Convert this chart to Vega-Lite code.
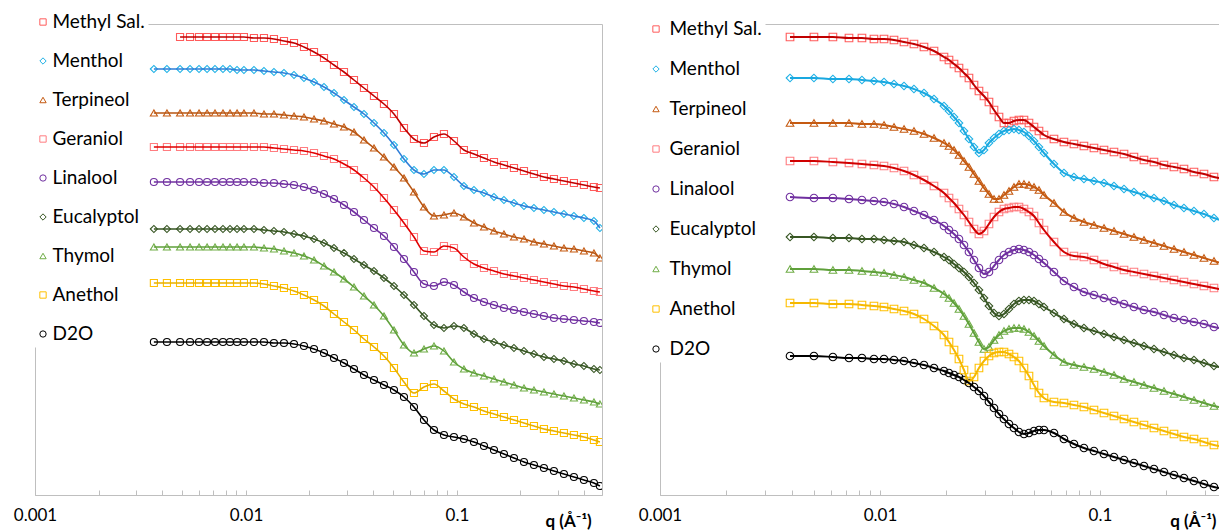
{
  "$schema": "https://vega.github.io/schema/vega-lite/v6.json",
  "background": "white",
  "padding": {"left": 12, "top": 9, "right": 0, "bottom": 0},
  "bounds": "flush",
  "spacing": 58,
  "config": {
    "font": "Lato",
    "view": {"stroke": "#BFBFBF", "strokeWidth": 1},
    "axis": {"grid": false, "domainColor": "#BFBFBF", "tickColor": "#BFBFBF"}
  },
  "datasets": {
    "L": [
      {"q":0.00366,"me":4.26,"te":3.82,"ge":3.48,"li":3.13,"eu":2.66,"th":2.48,"an":2.12,"d2":1.53},
      {"q":0.00422,"me":4.26,"te":3.82,"ge":3.48,"li":3.13,"eu":2.66,"th":2.48,"an":2.12,"d2":1.53},
      {"q":0.00487,"ms":4.58,"me":4.26,"te":3.82,"ge":3.48,"li":3.13,"eu":2.66,"th":2.48,"an":2.12,"d2":1.53},
      {"q":0.00543,"ms":4.58,"me":4.26,"te":3.82,"ge":3.48,"li":3.13,"eu":2.66,"th":2.48,"an":2.12,"d2":1.53},
      {"q":0.00599,"ms":4.58,"me":4.26,"te":3.82,"ge":3.48,"li":3.13,"eu":2.66,"th":2.48,"an":2.12,"d2":1.53},
      {"q":0.00654,"ms":4.58,"me":4.26,"te":3.82,"ge":3.48,"li":3.13,"eu":2.66,"th":2.48,"an":2.12,"d2":1.53},
      {"q":0.00713,"ms":4.58,"me":4.26,"te":3.82,"ge":3.48,"li":3.13,"eu":2.66,"th":2.48,"an":2.12,"d2":1.53},
      {"q":0.00778,"ms":4.58,"me":4.26,"te":3.82,"ge":3.48,"li":3.13,"eu":2.66,"th":2.48,"an":2.12,"d2":1.53},
      {"q":0.0084,"ms":4.58,"me":4.26,"te":3.82,"ge":3.48,"li":3.13,"eu":2.66,"th":2.48,"an":2.12,"d2":1.53},
      {"q":0.00907,"ms":4.58,"me":4.25,"te":3.82,"ge":3.48,"li":3.13,"eu":2.66,"th":2.48,"an":2.12,"d2":1.53},
      {"q":0.00978,"ms":4.58,"me":4.25,"te":3.82,"ge":3.48,"li":3.13,"eu":2.66,"th":2.48,"an":2.12,"d2":1.53},
      {"q":0.01091,"ms":4.57,"me":4.25,"te":3.82,"ge":3.48,"li":3.13,"eu":2.66,"th":2.48,"an":2.12,"d2":1.53},
      {"q":0.01217,"ms":4.57,"me":4.24,"te":3.81,"ge":3.48,"li":3.12,"eu":2.65,"th":2.47,"an":2.11,"d2":1.53},
      {"q":0.01357,"ms":4.56,"me":4.23,"te":3.81,"ge":3.47,"li":3.12,"eu":2.64,"th":2.46,"an":2.09,"d2":1.52},
      {"q":0.01514,"ms":4.54,"me":4.22,"te":3.80,"ge":3.46,"li":3.11,"eu":2.63,"th":2.44,"an":2.07,"d2":1.52},
      {"q":0.01689,"ms":4.52,"me":4.20,"te":3.79,"ge":3.45,"li":3.10,"eu":2.61,"th":2.42,"an":2.04,"d2":1.51},
      {"q":0.01883,"ms":4.48,"me":4.17,"te":3.78,"ge":3.44,"li":3.08,"eu":2.59,"th":2.39,"an":2.00,"d2":1.49},
      {"q":0.02101,"ms":4.43,"me":4.13,"te":3.76,"ge":3.42,"li":3.05,"eu":2.56,"th":2.35,"an":1.95,"d2":1.46},
      {"q":0.02343,"ms":4.37,"me":4.08,"te":3.74,"ge":3.39,"li":3.01,"eu":2.52,"th":2.29,"an":1.89,"d2":1.42},
      {"q":0.02613,"ms":4.30,"me":4.02,"te":3.71,"ge":3.36,"li":2.96,"eu":2.47,"th":2.23,"an":1.81,"d2":1.37},
      {"q":0.02914,"ms":4.23,"me":3.95,"te":3.68,"ge":3.31,"li":2.90,"eu":2.42,"th":2.16,"an":1.73,"d2":1.32},
      {"q":0.0325,"ms":4.15,"me":3.88,"te":3.63,"ge":3.25,"li":2.83,"eu":2.36,"th":2.08,"an":1.65,"d2":1.26},
      {"q":0.03625,"ms":4.07,"me":3.81,"te":3.55,"ge":3.17,"li":2.75,"eu":2.30,"th":1.99,"an":1.56,"d2":1.20},
      {"q":0.04043,"ms":3.99,"me":3.72,"te":3.47,"ge":3.08,"li":2.67,"eu":2.24,"th":1.90,"an":1.48,"d2":1.15},
      {"q":0.04509,"ms":3.91,"me":3.62,"te":3.38,"ge":2.97,"li":2.59,"eu":2.17,"th":1.79,"an":1.39,"d2":1.10},
      {"q":0.05029,"ms":3.81,"me":3.50,"te":3.28,"ge":2.85,"li":2.48,"eu":2.09,"th":1.65,"an":1.27,"d2":1.05},
      {"q":0.05609,"ms":3.67,"me":3.36,"te":3.17,"ge":2.72,"li":2.36,"eu":2.00,"th":1.50,"an":1.13,"d2":0.98},
      {"q":0.06256,"ms":3.56,"me":3.25,"te":3.03,"ge":2.58,"li":2.23,"eu":1.90,"th":1.42,"an":1.02,"d2":0.88},
      {"q":0.06977,"ms":3.52,"me":3.21,"te":2.88,"ge":2.44,"li":2.11,"eu":1.79,"th":1.46,"an":1.08,"d2":0.75},
      {"q":0.07781,"ms":3.58,"me":3.25,"te":2.79,"ge":2.43,"li":2.09,"eu":1.70,"th":1.49,"an":1.11,"d2":0.65},
      {"q":0.08678,"ms":3.61,"me":3.25,"te":2.80,"ge":2.49,"li":2.13,"eu":1.67,"th":1.44,"an":1.04,"d2":0.60},
      {"q":0.09679,"ms":3.54,"me":3.18,"te":2.82,"ge":2.47,"li":2.10,"eu":1.69,"th":1.33,"an":0.96,"d2":0.58},
      {"q":0.1079,"ms":3.45,"me":3.09,"te":2.78,"ge":2.38,"li":2.03,"eu":1.67,"th":1.26,"an":0.91,"d2":0.56},
      {"q":0.1204,"ms":3.41,"me":3.05,"te":2.72,"ge":2.31,"li":1.97,"eu":1.61,"th":1.22,"an":0.88,"d2":0.53},
      {"q":0.1343,"ms":3.37,"me":3.02,"te":2.68,"ge":2.27,"li":1.93,"eu":1.56,"th":1.19,"an":0.84,"d2":0.49},
      {"q":0.1498,"ms":3.33,"me":2.98,"te":2.64,"ge":2.24,"li":1.90,"eu":1.53,"th":1.16,"an":0.81,"d2":0.45},
      {"q":0.167,"ms":3.30,"me":2.95,"te":2.61,"ge":2.21,"li":1.87,"eu":1.50,"th":1.13,"an":0.78,"d2":0.41},
      {"q":0.1863,"ms":3.27,"me":2.92,"te":2.58,"ge":2.19,"li":1.85,"eu":1.47,"th":1.10,"an":0.75,"d2":0.37},
      {"q":0.2078,"ms":3.24,"me":2.89,"te":2.56,"ge":2.17,"li":1.83,"eu":1.44,"th":1.07,"an":0.72,"d2":0.33},
      {"q":0.2317,"ms":3.21,"me":2.87,"te":2.53,"ge":2.15,"li":1.81,"eu":1.41,"th":1.05,"an":0.69,"d2":0.30},
      {"q":0.2584,"ms":3.18,"me":2.85,"te":2.51,"ge":2.13,"li":1.79,"eu":1.38,"th":1.03,"an":0.66,"d2":0.27},
      {"q":0.2882,"ms":3.16,"me":2.83,"te":2.49,"ge":2.11,"li":1.77,"eu":1.36,"th":1.01,"an":0.64,"d2":0.24},
      {"q":0.3214,"ms":3.14,"me":2.81,"te":2.47,"ge":2.09,"li":1.76,"eu":1.34,"th":0.99,"an":0.62,"d2":0.21},
      {"q":0.3585,"ms":3.12,"me":2.79,"te":2.46,"ge":2.08,"li":1.75,"eu":1.31,"th":0.97,"an":0.60,"d2":0.18},
      {"q":0.3998,"ms":3.10,"me":2.77,"te":2.44,"ge":2.06,"li":1.74,"eu":1.29,"th":0.95,"an":0.58,"d2":0.15},
      {"q":0.4459,"ms":3.08,"me":2.74,"te":2.42,"ge":2.04,"li":1.73,"eu":1.26,"th":0.93,"an":0.55,"d2":0.12},
      {"q":0.476,"ms":3.07,"me":2.67,"te":2.37,"ge":2.03,"li":1.72,"eu":1.25,"th":0.91,"an":0.53,"d2":0.09}
    ],
    "R": [
      {"q":0.0039,"ms":4.58,"me":4.17,"te":3.72,"ge":3.34,"li":2.98,"eu":2.58,"th":2.26,"an":1.92,"d2":1.39},
      {"q":0.00501,"ms":4.58,"me":4.17,"te":3.72,"ge":3.34,"li":2.97,"eu":2.58,"th":2.26,"an":1.92,"d2":1.39},
      {"q":0.00611,"ms":4.58,"me":4.16,"te":3.72,"ge":3.33,"li":2.97,"eu":2.57,"th":2.25,"an":1.91,"d2":1.38},
      {"q":0.00723,"ms":4.57,"me":4.16,"te":3.72,"ge":3.32,"li":2.96,"eu":2.57,"th":2.25,"an":1.91,"d2":1.37},
      {"q":0.00828,"ms":4.57,"me":4.15,"te":3.71,"ge":3.31,"li":2.95,"eu":2.56,"th":2.24,"an":1.90,"d2":1.37},
      {"q":0.00939,"ms":4.56,"me":4.14,"te":3.71,"ge":3.30,"li":2.94,"eu":2.56,"th":2.23,"an":1.89,"d2":1.36},
      {"q":0.01043,"ms":4.56,"me":4.13,"te":3.70,"ge":3.29,"li":2.93,"eu":2.55,"th":2.22,"an":1.88,"d2":1.36},
      {"q":0.01158,"ms":4.55,"me":4.11,"te":3.68,"ge":3.27,"li":2.91,"eu":2.54,"th":2.20,"an":1.86,"d2":1.35},
      {"q":0.01286,"ms":4.53,"me":4.09,"te":3.66,"ge":3.24,"li":2.88,"eu":2.53,"th":2.18,"an":1.84,"d2":1.34},
      {"q":0.01427,"ms":4.51,"me":4.06,"te":3.64,"ge":3.20,"li":2.84,"eu":2.50,"th":2.15,"an":1.81,"d2":1.32},
      {"q":0.01585,"ms":4.48,"me":4.02,"te":3.61,"ge":3.15,"li":2.80,"eu":2.47,"th":2.12,"an":1.76,"d2":1.30},
      {"q":0.0176,"ms":4.44,"me":3.96,"te":3.57,"ge":3.09,"li":2.75,"eu":2.43,"th":2.07,"an":1.69,"d2":1.27},
      {"q":0.01954,"ms":4.38,"me":3.89,"te":3.52,"ge":3.02,"li":2.69,"eu":2.38,"th":2.01,"an":1.60,"d2":1.24},
      {"q":0.02059,"ms":4.35,"me":3.84,"te":3.49,"ge":2.97,"li":2.65,"eu":2.35,"th":1.97,"an":1.53,"d2":1.22},
      {"q":0.0217,"ms":4.31,"me":3.78,"te":3.45,"ge":2.92,"li":2.61,"eu":2.31,"th":1.92,"an":1.45,"d2":1.20},
      {"q":0.02286,"ms":4.27,"me":3.72,"te":3.40,"ge":2.86,"li":2.56,"eu":2.27,"th":1.86,"an":1.36,"d2":1.18},
      {"q":0.02409,"ms":4.22,"me":3.64,"te":3.34,"ge":2.80,"li":2.50,"eu":2.23,"th":1.79,"an":1.25,"d2":1.15},
      {"q":0.02538,"ms":4.17,"me":3.56,"te":3.28,"ge":2.73,"li":2.43,"eu":2.18,"th":1.71,"an":1.14,"d2":1.12},
      {"q":0.02675,"ms":4.10,"me":3.48,"te":3.21,"ge":2.66,"li":2.35,"eu":2.12,"th":1.62,"an":1.18,"d2":1.08},
      {"q":0.02818,"ms":4.04,"me":3.42,"te":3.14,"ge":2.61,"li":2.27,"eu":2.05,"th":1.53,"an":1.27,"d2":1.04},
      {"q":0.0297,"ms":3.99,"me":3.45,"te":3.07,"ge":2.64,"li":2.21,"eu":1.97,"th":1.46,"an":1.34,"d2":0.99},
      {"q":0.03129,"ms":3.93,"me":3.52,"te":3.01,"ge":2.71,"li":2.23,"eu":1.89,"th":1.48,"an":1.39,"d2":0.93},
      {"q":0.03298,"ms":3.85,"me":3.57,"te":2.96,"ge":2.78,"li":2.29,"eu":1.82,"th":1.55,"an":1.42,"d2":0.87},
      {"q":0.03475,"ms":3.78,"me":3.61,"te":2.96,"ge":2.83,"li":2.35,"eu":1.79,"th":1.60,"an":1.43,"d2":0.81},
      {"q":0.03661,"ms":3.72,"me":3.64,"te":3.00,"ge":2.86,"li":2.40,"eu":1.81,"th":1.64,"an":1.43,"d2":0.76},
      {"q":0.03858,"ms":3.72,"me":3.65,"te":3.04,"ge":2.87,"li":2.43,"eu":1.86,"th":1.66,"an":1.41,"d2":0.71},
      {"q":0.04065,"ms":3.74,"me":3.66,"te":3.08,"ge":2.88,"li":2.45,"eu":1.91,"th":1.67,"an":1.38,"d2":0.67},
      {"q":0.04283,"ms":3.75,"me":3.65,"te":3.11,"ge":2.88,"li":2.46,"eu":1.94,"th":1.67,"an":1.34,"d2":0.63},
      {"q":0.04513,"ms":3.75,"me":3.63,"te":3.11,"ge":2.86,"li":2.45,"eu":1.95,"th":1.66,"an":1.27,"d2":0.61},
      {"q":0.04756,"ms":3.72,"me":3.59,"te":3.10,"ge":2.83,"li":2.43,"eu":1.95,"th":1.63,"an":1.19,"d2":0.62},
      {"q":0.05012,"ms":3.68,"me":3.54,"te":3.08,"ge":2.79,"li":2.40,"eu":1.94,"th":1.59,"an":1.10,"d2":0.64},
      {"q":0.05281,"ms":3.64,"me":3.48,"te":3.05,"ge":2.72,"li":2.36,"eu":1.91,"th":1.54,"an":1.02,"d2":0.65},
      {"q":0.05565,"ms":3.60,"me":3.42,"te":3.00,"ge":2.65,"li":2.32,"eu":1.88,"th":1.49,"an":0.97,"d2":0.65},
      {"q":0.06179,"ms":3.56,"me":3.31,"te":2.92,"ge":2.53,"li":2.23,"eu":1.82,"th":1.40,"an":0.93,"d2":0.62},
      {"q":0.0686,"ms":3.53,"me":3.22,"te":2.83,"ge":2.43,"li":2.14,"eu":1.76,"th":1.33,"an":0.92,"d2":0.56},
      {"q":0.07617,"ms":3.51,"me":3.18,"te":2.77,"ge":2.39,"li":2.08,"eu":1.71,"th":1.30,"an":0.90,"d2":0.51},
      {"q":0.08457,"ms":3.49,"me":3.16,"te":2.73,"ge":2.38,"li":2.03,"eu":1.67,"th":1.28,"an":0.88,"d2":0.47},
      {"q":0.09391,"ms":3.47,"me":3.14,"te":2.70,"ge":2.35,"li":2.00,"eu":1.64,"th":1.26,"an":0.85,"d2":0.44},
      {"q":0.1043,"ms":3.45,"me":3.12,"te":2.67,"ge":2.31,"li":1.97,"eu":1.61,"th":1.23,"an":0.82,"d2":0.41},
      {"q":0.1158,"ms":3.43,"me":3.09,"te":2.64,"ge":2.28,"li":1.94,"eu":1.58,"th":1.20,"an":0.79,"d2":0.38},
      {"q":0.1286,"ms":3.41,"me":3.06,"te":2.61,"ge":2.25,"li":1.91,"eu":1.55,"th":1.16,"an":0.76,"d2":0.35},
      {"q":0.1427,"ms":3.38,"me":3.03,"te":2.58,"ge":2.23,"li":1.88,"eu":1.52,"th":1.13,"an":0.73,"d2":0.32},
      {"q":0.1585,"ms":3.35,"me":3.00,"te":2.55,"ge":2.21,"li":1.85,"eu":1.49,"th":1.10,"an":0.70,"d2":0.29},
      {"q":0.176,"ms":3.33,"me":2.97,"te":2.52,"ge":2.19,"li":1.83,"eu":1.46,"th":1.07,"an":0.67,"d2":0.26},
      {"q":0.1954,"ms":3.30,"me":2.94,"te":2.49,"ge":2.17,"li":1.80,"eu":1.43,"th":1.04,"an":0.64,"d2":0.23},
      {"q":0.217,"ms":3.28,"me":2.90,"te":2.46,"ge":2.15,"li":1.77,"eu":1.40,"th":1.01,"an":0.61,"d2":0.20},
      {"q":0.2409,"ms":3.26,"me":2.87,"te":2.43,"ge":2.13,"li":1.75,"eu":1.37,"th":0.98,"an":0.58,"d2":0.17},
      {"q":0.2675,"ms":3.23,"me":2.84,"te":2.40,"ge":2.11,"li":1.73,"eu":1.35,"th":0.95,"an":0.56,"d2":0.14},
      {"q":0.297,"ms":3.21,"me":2.81,"te":2.37,"ge":2.09,"li":1.71,"eu":1.32,"th":0.92,"an":0.53,"d2":0.11},
      {"q":0.3298,"ms":3.18,"me":2.77,"te":2.34,"ge":2.07,"li":1.68,"eu":1.29,"th":0.89,"an":0.50,"d2":0.08},
      {"q":0.3661,"ms":3.16,"me":2.74,"te":2.31,"ge":2.05,"li":1.66,"eu":1.27,"th":0.87,"an":0.48,"d2":0.06}
    ]
  },
  "hconcat": [
    {
      "width": 567,
      "height": 471,
      "data": {"name": "L"},
      "transform": [
        {"fold": ["ms","me","te","ge","li","eu","th","an","d2"], "as": ["k","v"]},
        {"filter": "isValid(datum.v)"}
      ],
      "encoding": {
        "x": {
          "field": "q", "type": "quantitative",
          "scale": {"type": "log", "domain": [0.001, 0.487], "nice": false},
          "axis": {
            "values": [0.001,0.002,0.003,0.004,0.005,0.006,0.007,0.008,0.009,0.01,0.02,0.03,0.04,0.05,0.06,0.07,0.08,0.09,0.1,0.2,0.3,0.4],
            "format": "~g",
            "labelExpr": "datum.value == 0.001 || datum.value == 0.01 || datum.value == 0.1 ? datum.label : ''",
            "labelOverlap": false, "labelFlush": false, "labelBound": false,
            "tickSize": -5, "labelPadding": 17,
            "labelFont": "Lato", "labelFontSize": 17, "labelColor": "#000000",
            "title": "q (Å⁻¹)", "titleFont": "Lato", "titleFontSize": 17, "titleFontWeight": "bold", "titleColor": "#000000",
            "titleAnchor": "start", "titleAlign": "left", "titleBaseline": "alphabetic", "titleX": 510, "titleY": 31
          }
        },
        "y": {
          "field": "v", "type": "quantitative",
          "scale": {"domain": [0, 4.71], "nice": false, "zero": false},
          "axis": null
        }
      },
      "layer": [
        {
          "mark": {"type": "point", "filled": false, "clip": true, "size": 50, "strokeWidth": 1.1, "opacity": 1},
          "encoding": {
            "color": {
              "field": "k", "type": "nominal",
              "scale": {"domain": ["ms","me","te","ge","li","eu","th","an","d2"], "range": ["#FF5B5B","#1FB1E6","#C55A11","#FF7C80","#7030A0","#375623","#70AD47","#FFC000","#000000"]},
              "legend": {"orient": "none", "legendX": -4.5, "legendY": -14.5, "title": null, "fillColor": "white", "padding": 3, "rowPadding": 19, "labelFont": "Lato", "labelFontSize": 19, "labelColor": "#000000", "labelOffset": 0, "symbolSize": 40, "symbolStrokeWidth": 1,
                "labelExpr": "{'ms':'Methyl Sal.','me':'Menthol','te':'Terpineol','ge':'Geraniol','li':'Linalool','eu':'Eucalyptol','th':'Thymol','an':'Anethol','d2':'D2O'}[datum.label]"}
            },
            "shape": {
              "field": "k", "type": "nominal",
              "scale": {"domain": ["ms","me","te","ge","li","eu","th","an","d2"], "range": ["square","diamond","triangle-up","square","circle","diamond","triangle-up","square","circle"]},
              "legend": {"orient": "none", "legendX": -4.5, "legendY": -14.5, "title": null, "fillColor": "white", "padding": 3, "rowPadding": 19, "labelFont": "Lato", "labelFontSize": 19, "labelColor": "#000000", "labelOffset": 0, "symbolSize": 40, "symbolStrokeWidth": 1,
                "labelExpr": "{'ms':'Methyl Sal.','me':'Menthol','te':'Terpineol','ge':'Geraniol','li':'Linalool','eu':'Eucalyptol','th':'Thymol','an':'Anethol','d2':'D2O'}[datum.label]"}
            }
          }
        },
        {
          "mark": {"type": "line", "clip": true, "strokeWidth": 1.6, "interpolate": "monotone"},
          "encoding": {
            "stroke": {
              "field": "k", "type": "nominal",
              "scale": {"domain": ["ms","me","te","ge","li","eu","th","an","d2"], "range": ["#C00000","#2F7ED8","#B85512","#E00000","#7030A0","#375623","#5FA03A","#E8B000","#000000"]},
              "legend": null
            }
          }
        }
      ]
    },
    {
      "width": 561,
      "height": 471,
      "data": {"name": "R"},
      "transform": [
        {"fold": ["ms","me","te","ge","li","eu","th","an","d2"], "as": ["k","v"]},
        {"filter": "isValid(datum.v)"}
      ],
      "encoding": {
        "x": {
          "field": "q", "type": "quantitative",
          "scale": {"type": "log", "domain": [0.001, 0.355], "nice": false},
          "axis": {
            "values": [0.001,0.002,0.003,0.004,0.005,0.006,0.007,0.008,0.009,0.01,0.02,0.03,0.04,0.05,0.06,0.07,0.08,0.09,0.1,0.2,0.3],
            "format": "~g",
            "labelExpr": "datum.value == 0.001 || datum.value == 0.01 || datum.value == 0.1 ? datum.label : ''",
            "labelOverlap": false, "labelFlush": false, "labelBound": false,
            "tickSize": -5, "labelPadding": 17,
            "labelFont": "Lato", "labelFontSize": 17, "labelColor": "#000000",
            "title": "q (Å⁻¹)", "titleFont": "Lato", "titleFontSize": 17, "titleFontWeight": "bold", "titleColor": "#000000",
            "titleAnchor": "end", "titleAlign": "right", "titleBaseline": "alphabetic", "titleX": 556, "titleY": 31
          }
        },
        "y": {
          "field": "v", "type": "quantitative",
          "scale": {"domain": [0, 4.71], "nice": false, "zero": false},
          "axis": null
        }
      },
      "layer": [
        {
          "mark": {"type": "point", "filled": false, "clip": true, "size": 58, "strokeWidth": 1.1, "opacity": 1},
          "encoding": {
            "color": {
              "field": "k", "type": "nominal",
              "scale": {"domain": ["ms","me","te","ge","li","eu","th","an","d2"], "range": ["#FF5B5B","#1FB1E6","#C55A11","#FF7C80","#7030A0","#375623","#70AD47","#FFC000","#000000"]},
              "legend": {"orient": "none", "legendX": -16.5, "legendY": -7.5, "title": null, "fillColor": "white", "padding": 3, "rowPadding": 20, "labelFont": "Lato", "labelFontSize": 19, "labelColor": "#000000", "labelOffset": 4, "symbolSize": 40, "symbolStrokeWidth": 1,
                "labelExpr": "{'ms':'Methyl Sal.','me':'Menthol','te':'Terpineol','ge':'Geraniol','li':'Linalool','eu':'Eucalyptol','th':'Thymol','an':'Anethol','d2':'D2O'}[datum.label]"}
            },
            "shape": {
              "field": "k", "type": "nominal",
              "scale": {"domain": ["ms","me","te","ge","li","eu","th","an","d2"], "range": ["square","diamond","triangle-up","square","circle","diamond","triangle-up","square","circle"]},
              "legend": {"orient": "none", "legendX": -16.5, "legendY": -7.5, "title": null, "fillColor": "white", "padding": 3, "rowPadding": 20, "labelFont": "Lato", "labelFontSize": 19, "labelColor": "#000000", "labelOffset": 4, "symbolSize": 40, "symbolStrokeWidth": 1,
                "labelExpr": "{'ms':'Methyl Sal.','me':'Menthol','te':'Terpineol','ge':'Geraniol','li':'Linalool','eu':'Eucalyptol','th':'Thymol','an':'Anethol','d2':'D2O'}[datum.label]"}
            }
          }
        },
        {
          "mark": {"type": "line", "clip": true, "strokeWidth": 2, "interpolate": "monotone"},
          "encoding": {
            "stroke": {
              "field": "k", "type": "nominal",
              "scale": {"domain": ["ms","me","te","ge","li","eu","th","an","d2"], "range": ["#C00000","#19A8E0","#C55A11","#D00000","#7030A0","#375623","#5FA03A","#F5B800","#000000"]},
              "legend": null
            }
          }
        }
      ]
    }
  ],
  "resolve": {
    "scale": {"x": "independent", "y": "independent", "color": "independent", "shape": "independent", "stroke": "independent"},
    "legend": {"color": "independent", "shape": "independent"}
  }
}
